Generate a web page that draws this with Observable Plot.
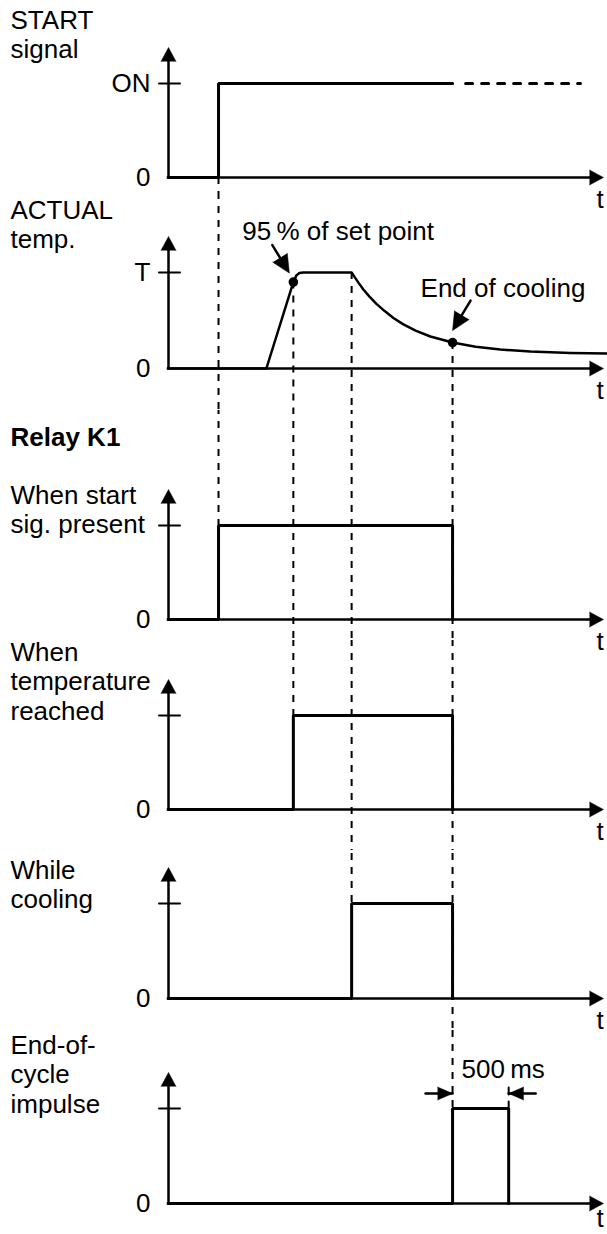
<!DOCTYPE html>
<html>
<head>
<meta charset="utf-8">
<script src="https://cdn.jsdelivr.net/npm/d3@7"></script>
<script src="https://cdn.jsdelivr.net/npm/@observablehq/plot@0.6"></script>
<style>
html, body { margin: 0; padding: 0; background: #fff; }
#chart { width: 607px; height: 1234px; overflow: hidden; }
#chart svg { display: block; overflow: visible; }
</style>
</head>
<body>
<div id="chart"></div>
<script>
// ---------------- data ----------------
const xDomain = [0, 100];                       // time, arbitrary units (origin .. arrow tip)
const axisName = "t";

const startTitle = "START\nsignal";
const startTickLabel = "ON";
const startT = [0, 11.5, 11.5, 65.3];           // solid part of START signal
const startV = [0, 0, 1, 1];
const startContT = [68.3, 94.7];                // dotted continuation
const startContV = [1, 1];

const tempTitle = "ACTUAL\ntemp.";
const tempTickLabel = "T";
const tempT = [0, 22.5, 28.7, 29.4, 30.1, 31.0, 42.1, 42.8, 43.7, 44.8, 46.2, 47.8, 49.7, 51.7, 54.0, 56.8, 60.2, 65.3, 70.6, 76.3, 83.2, 92.4, 100.9];
const tempV = [0, 0, 0.90, 0.97, 0.995, 1, 1, 0.952, 0.892, 0.823, 0.749, 0.673, 0.598, 0.526, 0.460, 0.395, 0.333, 0.270, 0.227, 0.197, 0.176, 0.162, 0.156];
const markerT = [28.7, 65.3];
const markerV = [0.90, 0.27];
const markerText = ["95\u2009% of set point", "End of cooling"];

const groupTitle = "Relay K1";
const relayNames = ["When start\nsig. present", "When\ntemperature\nreached", "While\ncooling", "End-of-\ncycle\nimpulse"];
const relayOnT = [11.5, 28.7, 42.1, 65.3];
const relayOffT = [65.3, 65.3, 65.3, 78.2];
const impulseText = "500\u2009ms";
const zeroLabel = "0";

// ---------------- layout (page pixels) ----------------
const W = 607, ML = 168, MR = 4, FS = 26, LH = 30;
const font = "'Liberation Sans', Arial, Helvetica, sans-serif";
const layout = [
  {top: 0,    bottom: 195,  base: 177,  tick: 83,   labelBase: 28,  tDy: 30},
  {top: 195,  bottom: 410,  base: 368,  tick: 272,  labelBase: 218, tDy: 30},
  {top: 410,  bottom: 640,  base: 619,  tick: 525,  labelBase: 503, tDy: 30, titleBase: 445},
  {top: 640,  bottom: 850,  base: 809,  tick: 715,  labelBase: 660, tDy: 30},
  {top: 850,  bottom: 1030, base: 998,  tick: 903,  labelBase: 878, tDy: 30},
  {top: 1030, bottom: 1234, base: 1203, tick: 1108, labelBase: 1053, tDy: 23}
];

const lineShape = {draw(context, l) { context.moveTo(0, 0); context.lineTo(0, -l); }};
const xy = (ts, vs) => ts.map((t, i) => ({t, v: vs[i]}));
const pulse = (on, off) => [{t: xDomain[0], v: 0}, {t: on, v: 0}, {t: on, v: 1}, {t: off, v: 1}, {t: off, v: 0}];

// dashed guide lines spanning several panels
const guides = [
  {t: startT[1],   fromPanel: 0, fromV: 0,          toPanel: 2},
  {t: markerT[0],  fromPanel: 1, fromV: markerV[0], toPanel: 3},
  {t: relayOnT[2], fromPanel: 1, fromV: 1,          toPanel: 4},
  {t: markerT[1],  fromPanel: 1, fromV: markerV[1], toPanel: 5}
];

function guideMarks(i) {
  const segs = guides.filter(g => i >= g.fromPanel && i <= g.toPanel).map(g => ({
    t: g.t, y1: i === g.fromPanel ? g.fromV : 3, y2: i === g.toPanel ? 1 : -3
  }));
  return [Plot.ruleX(segs, {x: "t", y1: "y1", y2: "y2", stroke: "black", strokeWidth: 2, strokeDasharray: "7,7", clip: true})];
}

function axisMarks(i, tickLabel) {
  const L = layout[i];
  const labels = [{t: xDomain[0], v: 0, s: zeroLabel}];
  if (tickLabel) labels.push({t: xDomain[0], v: 1, s: tickLabel});
  return [
    Plot.ruleY([0], {x1: xDomain[0], x2: 97, stroke: "black", strokeWidth: 2.5, strokeLinecap: "square"}),
    Plot.ruleX([xDomain[0]], {y1: 0, y2: 1.3, stroke: "black", strokeWidth: 2.5, strokeLinecap: "square"}),
    Plot.vector([{t: xDomain[1], v: 0}], {x: "t", y: "v", anchor: "end", rotate: 90, length: 14, r: 7.5, shape: "spike", fill: "black", stroke: "black", strokeWidth: 0.5}),
    Plot.vector([{t: xDomain[0], v: 1}], {x: "t", y: "v", anchor: "end", rotate: 0, length: 14, r: 7.5, dy: -36, shape: "spike", fill: "black", stroke: "black", strokeWidth: 0.5}),
    Plot.vector([{t: xDomain[0], v: 1}], {x: "t", y: "v", anchor: "middle", rotate: 90, length: 21, dx: 1, shape: lineShape, stroke: "black", strokeWidth: 2}),
    Plot.text(labels, {x: "t", y: "v", text: "s", textAnchor: "end", dx: -18, fontSize: FS, fill: "black"}),
    Plot.text([{t: xDomain[1], v: 0, s: axisName}], {x: "t", y: "v", text: "s", textAnchor: "start", lineAnchor: "bottom", dx: -7, dy: L.tDy, fontSize: FS, fill: "black"})
  ];
}

function titleMark(i, label) {
  const L = layout[i];
  return Plot.text([label], {
    text: d => d, frameAnchor: "top-left", dx: 10 - ML, dy: L.labelBase - L.top - 0.71 * LH,
    textAnchor: "start", lineAnchor: "top", lineHeight: LH / FS, fontSize: FS, fill: "black"
  });
}

function makePanel(i, tickLabel, extra) {
  const L = layout[i];
  return Plot.plot({
    width: W, height: L.bottom - L.top,
    marginTop: 0, marginBottom: 0, marginLeft: ML, marginRight: MR,
    x: {domain: xDomain, axis: null},
    y: {domain: [0, 1], range: [L.base - L.top, L.tick - L.top], axis: null},
    style: {background: "transparent", overflow: "visible", color: "black", fontFamily: font},
    marks: [...guideMarks(i), ...axisMarks(i, tickLabel), ...extra]
  });
}

const chart = document.getElementById("chart");

// Panel 1: START signal
chart.appendChild(makePanel(0, startTickLabel, [
  titleMark(0, startTitle),
  Plot.line(xy(startT, startV), {x: "t", y: "v", stroke: "black", strokeWidth: 3, strokeLinejoin: "miter"}),
  Plot.line(xy(startContT, startContV), {x: "t", y: "v", stroke: "black", strokeWidth: 3, strokeDasharray: "7,9"})
]));

// Panel 2: ACTUAL temperature
const m0 = {t: markerT[0], v: markerV[0], s: markerText[0]};
const m1 = {t: markerT[1], v: markerV[1], s: markerText[1]};
chart.appendChild(makePanel(1, tempTickLabel, [
  titleMark(1, tempTitle),
  Plot.line(xy(tempT, tempV), {x: "t", y: "v", stroke: "black", strokeWidth: 2.5, strokeLinejoin: "round"}),
  Plot.dot([m0, m1], {x: "t", y: "v", r: 4.8, fill: "black"}),
  Plot.vector([m0], {x: "t", y: "v", anchor: "start", dx: -21, dy: -37, rotate: 148.7, length: 20, shape: lineShape, stroke: "black", strokeWidth: 2.5}),
  Plot.vector([m0], {x: "t", y: "v", anchor: "end", dx: -4, dy: -9, rotate: 148.7, length: 18, r: 8.5, shape: "spike", fill: "black", stroke: "black", strokeWidth: 0.5}),
  Plot.text([m0], {x: "t", y: "v", text: "s", dx: -51, dy: -42, textAnchor: "start", lineAnchor: "bottom", fontSize: FS, fill: "black"}),
  Plot.vector([m1], {x: "t", y: "v", anchor: "start", dx: 18, dy: -42, rotate: 211, length: 20, shape: lineShape, stroke: "black", strokeWidth: 2.5}),
  Plot.vector([m1], {x: "t", y: "v", anchor: "end", dx: 0, dy: -12, rotate: 211, length: 18, r: 8.5, shape: "spike", fill: "black", stroke: "black", strokeWidth: 0.5}),
  Plot.text([m1], {x: "t", y: "v", text: "s", dx: -32, dy: -46, textAnchor: "start", lineAnchor: "bottom", fontSize: FS, fill: "black"})
]));

// Relay panels
relayNames.forEach((name, k) => {
  const i = k + 2;
  const L = layout[i];
  const extra = [
    titleMark(i, name),
    Plot.line(pulse(relayOnT[k], relayOffT[k]), {x: "t", y: "v", stroke: "black", strokeWidth: 3, strokeLinejoin: "miter"})
  ];
  if (k === 0) {
    extra.push(Plot.text([groupTitle], {
      text: d => d, frameAnchor: "top-left", dx: 10 - ML, dy: L.titleBase - L.top,
      textAnchor: "start", lineAnchor: "bottom", fontSize: FS, fontWeight: "bold", fill: "black"
    }));
  }
  if (k === 3) {
    const a = {t: relayOnT[k], v: 1, s: impulseText};
    const b = {t: relayOffT[k], v: 1};
    extra.push(
      Plot.vector([b], {x: "t", y: "v", anchor: "start", rotate: 0, length: 23, shape: lineShape, stroke: "black", strokeWidth: 2, strokeDasharray: "7,7"}),
      Plot.vector([a], {x: "t", y: "v", anchor: "end", dy: -15, rotate: 90, length: 27, shape: lineShape, stroke: "black", strokeWidth: 2.5}),
      Plot.vector([a], {x: "t", y: "v", anchor: "end", dy: -15, rotate: 90, length: 15, r: 6.5, shape: "spike", fill: "black", stroke: "black", strokeWidth: 0.5}),
      Plot.vector([b], {x: "t", y: "v", anchor: "end", dy: -15, rotate: 270, length: 27, shape: lineShape, stroke: "black", strokeWidth: 2.5}),
      Plot.vector([b], {x: "t", y: "v", anchor: "end", dy: -15, rotate: 270, length: 15, r: 6.5, shape: "spike", fill: "black", stroke: "black", strokeWidth: 0.5}),
      Plot.text([a], {x: "t", y: "v", text: "s", dx: 9, dy: -31, textAnchor: "start", lineAnchor: "bottom", fontSize: FS, fill: "black"})
    );
  }
  chart.appendChild(makePanel(i, null, extra));
});
</script>
</body>
</html>
